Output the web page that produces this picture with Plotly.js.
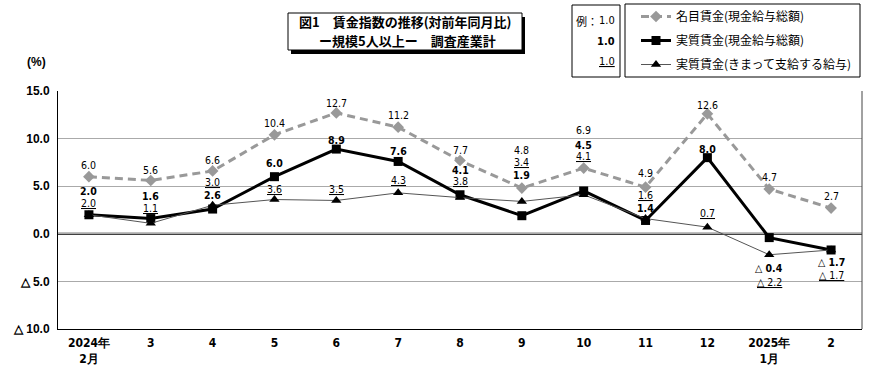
<!DOCTYPE html>
<html>
<head>
<meta charset="utf-8">
<script src="https://cdn.plot.ly/plotly-3.0.1.min.js"></script>
<style>html,body{margin:0;padding:0;background:#fff;}#chart{width:890px;height:379px;}</style>
</head>
<body>
<div id="chart"></div>
<script>
// ---- data ----
const categories = ['2024年<br>2月','3','4','5','6','7','8','9','10','11','12','2025年<br>1月','2'];
const nominalTotal = [6.0, 5.6, 6.6, 10.4, 12.7, 11.2, 7.7, 4.8, 6.9, 4.9, 12.6, 4.7, 2.7];
const realTotal = [2.0, 1.6, 2.6, 6.0, 8.9, 7.6, 4.1, 1.9, 4.5, 1.4, 8.0, -0.4, -1.7];
const realScheduled = [2.0, 1.1, 3.0, 3.6, 3.5, 4.3, 3.8, 3.4, 4.1, 1.6, 0.7, -2.2, -1.7];
const yTickVals = [-10, -5, 0, 5, 10, 15];
const yTickText = ['△ 10.0', '△ 5.0', '0.0', '5.0', '10.0', '15.0'];
const seriesNames = ['名目賃金(現金給与総額)', '実質賃金(現金給与総額)', '実質賃金(きまって支給する給与)'];

// ---- label placement (pixel shifts, positive = up) ----
const shiftNominal = [12, 10, 11, 12, 10, 12, 11, 38, 38, 14, 9, 12, 12];
const shiftRealTotal = [24, 23, 14, 14, 9, 10, 25, 41, 46, 12, 9, -30, -12];
const shiftScheduled = [12, 15, 23, 11, 11, 13, 17, 39, 39, 24, 14, -27, -25];

const W = 890, H = 379;
const M = {l: 58, r: 28, t: 91, b: 50, autoexpand: false};
const pw = W - M.l - M.r, ph = H - M.t - M.b;
const px = x => (x - M.l) / pw;
const py = y => (H - M.b - y) / ph;

const fmt = v => v < 0 ? '△ ' + Math.abs(v).toFixed(1) : v.toFixed(1);
const xs = categories.map((c, i) => i);
const narrow = 'Liberation Sans Narrow, DejaVu Sans Condensed, Arial Narrow, sans-serif';
const cjk = 'Noto Sans CJK JP, sans-serif';
const labelFont = {family: narrow, size: 10.5, color: '#000'};

const traces = [
  {x: categories, y: nominalTotal, name: seriesNames[0], type: 'scatter', mode: 'lines+markers',
   legendgroup: 'a',
   line: {color: '#999999', width: 3, dash: '8px,5px'},
   marker: {symbol: 'diamond', size: 9, color: '#999999'}},
  {x: categories, y: realTotal, name: seriesNames[1], type: 'scatter', mode: 'lines+markers',
   legendgroup: 'b',
   line: {color: '#000000', width: 3},
   marker: {symbol: 'square', size: 9, color: '#000000'}},
  {x: categories, y: realScheduled, name: seriesNames[2], type: 'scatter', mode: 'lines+markers',
   legendgroup: 'c',
   line: {color: '#555555', width: 1},
   marker: {symbol: 'triangle-up', size: 9, color: '#000000'}}
];

const annotations = [];
xs.forEach(i => {
  annotations.push({x: i, y: nominalTotal[i], xref: 'x', yref: 'y', text: fmt(nominalTotal[i]),
    showarrow: false, yshift: shiftNominal[i], font: labelFont});
  annotations.push({x: i, y: realTotal[i], xref: 'x', yref: 'y', text: '<b>' + fmt(realTotal[i]) + '</b>',
    showarrow: false, yshift: shiftRealTotal[i], font: labelFont});
  annotations.push({x: i, y: realScheduled[i], xref: 'x', yref: 'y', text: '<u>' + fmt(realScheduled[i]) + '</u>',
    showarrow: false, yshift: shiftScheduled[i], font: labelFont});
});

function paperText(x, y, text, font, xanchor) {
  annotations.push({xref: 'paper', yref: 'paper', x: px(x), y: py(y), text: text, showarrow: false,
    xanchor: xanchor || 'center', yanchor: 'middle', font: font});
}
// (%) unit
paperText(36, 62, '<b>(%)</b>', {family: 'Liberation Sans, Arial, sans-serif', size: 12, color: '#000'});
// title
paperText(405, 22, '<b>図1　賃金指数の推移(対前年同月比)</b>', {family: cjk, size: 13, color: '#000'});
paperText(407, 40, '<b>ー規模5人以上ー　調査産業計</b>', {family: cjk, size: 13, color: '#000'});
// example box
paperText(574, 21, '例：', {family: cjk, size: 11, color: '#000'}, 'left');
paperText(617, 21, '1.0', {family: narrow, size: 11, color: '#000'}, 'right');
paperText(617, 41, '<b>1.0</b>', {family: narrow, size: 11, color: '#000'}, 'right');
paperText(617, 61, '<u>1.0</u>', {family: narrow, size: 11, color: '#000'}, 'right');

const shapes = [
  // title shadow + box
  {type: 'rect', xref: 'paper', yref: 'paper', x0: px(291), x1: px(525), y0: py(17), y1: py(54),
   fillcolor: '#000', line: {width: 0}},
  {type: 'rect', xref: 'paper', yref: 'paper', x0: px(288), x1: px(522), y0: py(13), y1: py(50),
   fillcolor: '#fff', line: {color: '#000', width: 1}},
  // example box
  {type: 'rect', xref: 'paper', yref: 'paper', x0: px(572), x1: px(620), y0: py(5), y1: py(77),
   fillcolor: 'rgba(0,0,0,0)', line: {color: '#000', width: 1}},
  // legend box
  {type: 'rect', xref: 'paper', yref: 'paper', x0: px(625), x1: px(860), y0: py(4), y1: py(77),
   fillcolor: 'rgba(0,0,0,0)', line: {color: '#000', width: 1}},
  // zero line
  {type: 'line', xref: 'paper', yref: 'y', x0: 0, x1: 1, y0: 0, y1: 0, line: {color: '#000', width: 2}, layer: 'below'},
  // right border
  {type: 'line', xref: 'paper', yref: 'paper', x0: 1, x1: 1, y0: 0, y1: 1, line: {color: '#444', width: 1}}
];

const layout = {
  width: W, height: H,
  margin: M,
  paper_bgcolor: '#fff', plot_bgcolor: '#fff',
  showlegend: true,
  legend: {x: px(636), y: py(2), xanchor: 'left', yanchor: 'top', bgcolor: 'rgba(0,0,0,0)',
    borderwidth: 0, traceorder: 'grouped', tracegroupgap: 5,
    itemwidth: 30, font: {family: cjk, size: 12, color: '#000'}},
  xaxis: {type: 'category', range: [-0.5, 12.5], showgrid: false, zeroline: false,
    showline: true, linecolor: '#000', linewidth: 1, ticks: '', ticklabelstandoff: 3,
    tickfont: {family: narrow, size: 12, color: '#000', weight: 'bold'}, fixedrange: true},
  yaxis: {range: [-10, 15], tickvals: yTickVals, ticktext: yTickText, showgrid: true,
    gridcolor: '#aaaaaa', gridwidth: 1, zeroline: false, showline: true, linecolor: '#000', linewidth: 1,
    ticks: '', ticklabelstandoff: 5,
    tickfont: {family: 'Liberation Sans, Arial, sans-serif', size: 12, color: '#000', weight: 'bold'},
    fixedrange: true},
  annotations: annotations,
  shapes: shapes
};

Plotly.newPlot('chart', traces, layout, {displayModeBar: false, staticPlot: true});
</script>
</body>
</html>
